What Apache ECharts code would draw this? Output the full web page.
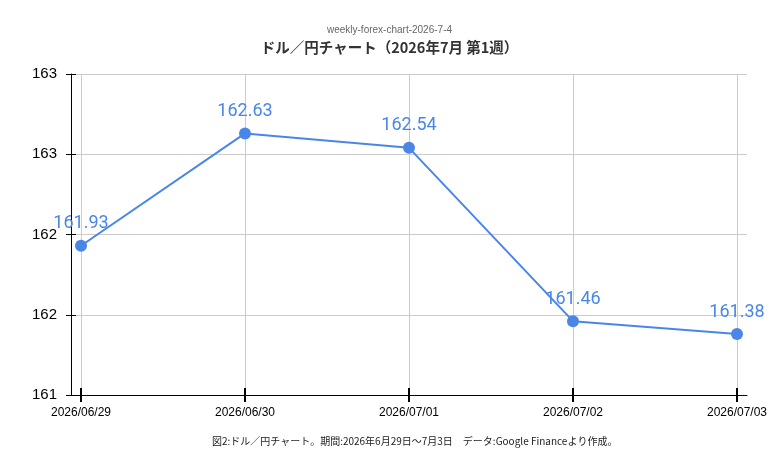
<!DOCTYPE html>
<html lang="ja">
<head>
    <meta charset="utf-8">
    <title>index</title>
    <style>
        html, body { margin: 0; padding: 0; background: #fff; }
    </style>
</head>
<body>
    <div id="main" style="width: 779px;height:468px;"></div>
    <script src="https://cdn.jsdelivr.net/npm/echarts@6/dist/echarts.min.js"></script>
    <script>
        // データ
        var dates = ['2026/06/29', '2026/06/30', '2026/07/01', '2026/07/02', '2026/07/03'];
        var rates = [161.93, 162.63, 162.54, 161.46, 161.38];
        var yMin = 161, yMax = 163, yStep = 0.5;

        var idx = dates.map(function (d, i) { return i; });
        var points = rates.map(function (v, i) { return [i, v]; });

        var blue = '#4a86e8';
        var pad = 0.061; // 両端の余白（日単位）

        var myChart = echarts.init(document.getElementById('main'));

        // x軸の共通設定（inside=true は軸線を挟む内側の目盛りだけ）
        function xAx(inside) {
            return {
                type: 'value',
                position: 'bottom',
                min: -pad,
                max: dates.length - 1 + pad,
                axisLine: { show: !inside, onZero: false, lineStyle: { color: '#000', width: 1 } },
                axisTick: {
                    show: true, inside: inside, length: 7, customValues: idx,
                    lineStyle: { color: '#000', width: 2 }
                },
                axisLabel: {
                    show: !inside, customValues: idx, margin: 12,
                    fontFamily: 'Liberation Sans', fontSize: 12, color: '#000',
                    formatter: function (v) { return dates[Math.round(v)]; }
                },
                splitLine: { show: !inside, lineStyle: { color: '#ccc' } }
            };
        }
        function yAx(inside) {
            return {
                type: 'value',
                position: 'left',
                min: yMin, max: yMax, interval: yStep,
                axisLine: { show: !inside, onZero: false, lineStyle: { color: '#000', width: 1 } },
                axisTick: { show: true, inside: inside, length: 5, lineStyle: { color: '#000' } },
                axisLabel: {
                    show: !inside, margin: 14,
                    fontFamily: 'Liberation Sans', fontSize: 15, color: '#000',
                    formatter: function (v) { return v.toFixed(0); }
                },
                splitLine: { show: !inside, lineStyle: { color: '#ccc' } }
            };
        }

        var option = {
            backgroundColor: '#fff',
            animation: false,
            title: [{
                text: 'weekly-forex-chart-2026-7-4',
                left: 'center', top: 20,
                textStyle: { fontFamily: 'Liberation Sans', fontSize: 10, fontWeight: 'normal', color: '#666' }
            }, {
                text: 'ドル／円チャート（2026年7月 第1週）',
                left: 'center', top: 35,
                textStyle: { fontFamily: 'Noto Sans CJK JP', fontSize: 14.5, fontWeight: 'bold', color: '#333' }
            }, {
                text: '図2:ドル／円チャート。期間:2026年6月29日〜7月3日　データ:Google Financeより作成。',
                left: 207, top: 431,
                textStyle: { fontFamily: 'Noto Sans CJK JP', fontSize: 10, fontWeight: 'normal', color: '#222' }
            }],
            grid: { left: 71, right: 32, top: 74, bottom: 73, outerBoundsMode: 'none' },
            xAxis: [xAx(false), xAx(true)],
            yAxis: [yAx(false), yAx(true)],
            series: [{
                type: 'line',
                data: points,
                symbol: 'circle',
                symbolSize: 12,
                itemStyle: { color: blue },
                lineStyle: { color: blue, width: 2 },
                label: {
                    show: true, position: 'top', distance: 7,
                    fontFamily: 'Roboto', fontSize: 18, color: blue,
                    formatter: function (p) { return p.value[1].toFixed(2); }
                }
            }]
        };

        myChart.setOption(option);
    </script>
</body>
</html>
